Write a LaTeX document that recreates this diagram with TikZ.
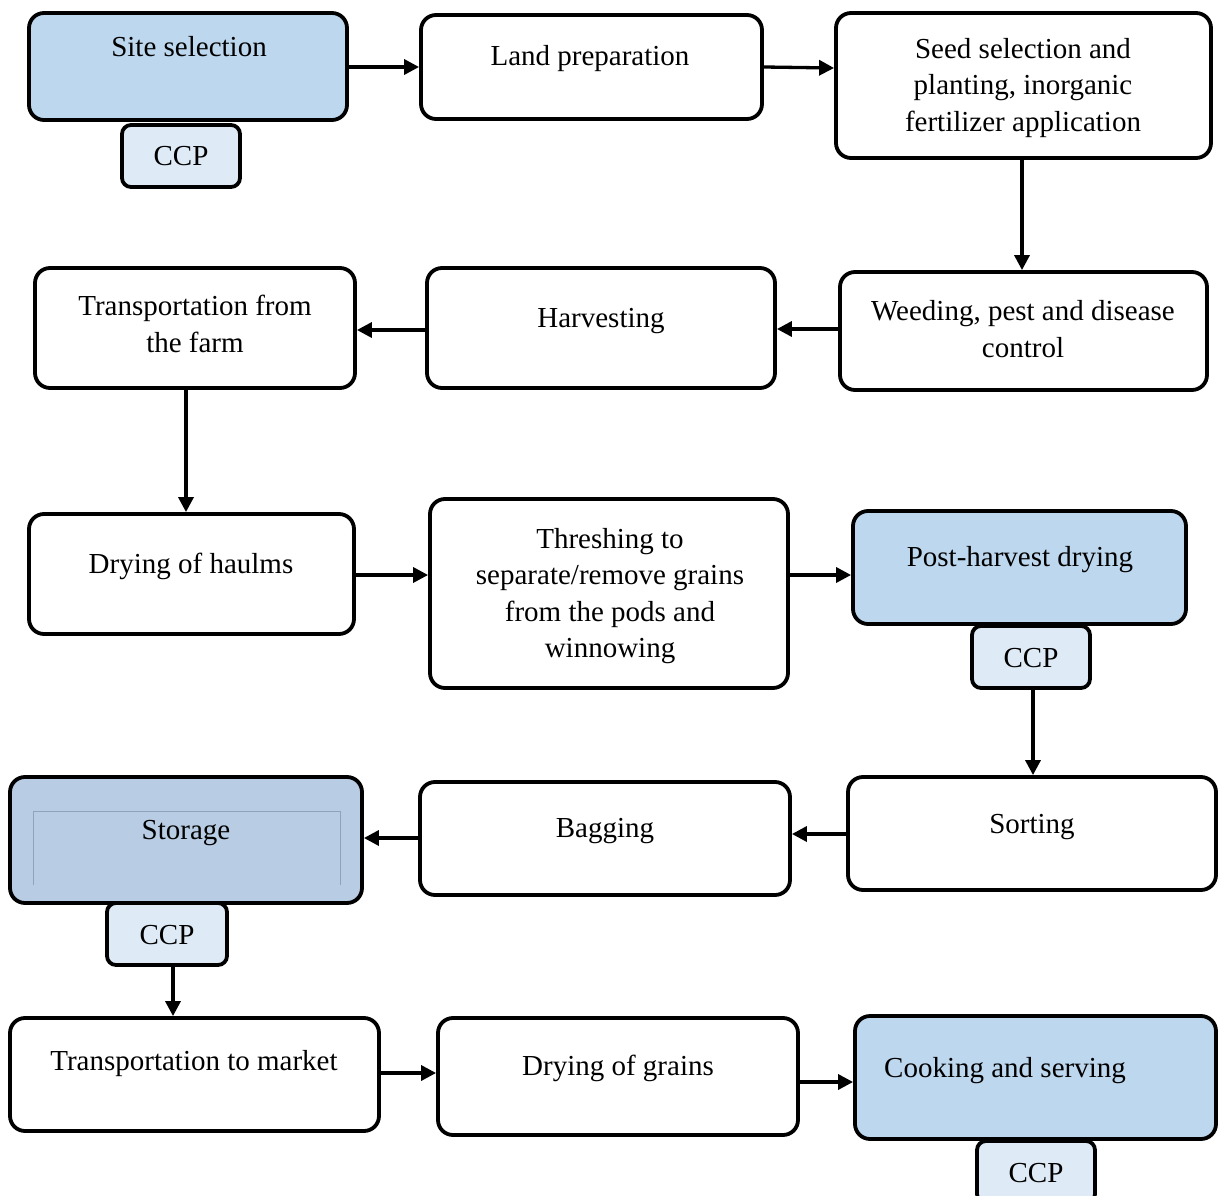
\documentclass[tikz,border=0pt]{standalone}
\usepackage{fontspec}
\setmainfont{Liberation Serif}
\usetikzlibrary{arrows.meta}
\definecolor{blueA}{HTML}{BDD7EE}
\definecolor{blueS}{HTML}{B8CCE4}
\definecolor{ccpfill}{HTML}{DEEAF6}
\definecolor{innergray}{HTML}{8FA3BB}
\tikzset{
  box/.style={draw=black, line width=3.8pt, rounded corners=15pt, inner sep=0pt, fill=white},
  bluebox/.style={box, fill=blueA},
  ccpbox/.style={draw=black, line width=3.8pt, rounded corners=9pt, inner sep=0pt, fill=ccpfill,
     minimum width=118pt, minimum height=62pt},
  txt/.style={inner sep=0pt, font=\fontsize{29}{36.5}\selectfont},
  ml/.style={txt, align=center, anchor=center},
  sl/.style={txt, anchor=base},
  arr/.style={line width=3.3pt, -{Triangle[length=15pt,width=15pt]}},
}
\begin{document}
\begin{tikzpicture}[x=1pt,y=-1pt]
\useasboundingbox (0,0) rectangle (1219,1196);
% boxes
\node[bluebox, minimum width=318pt, minimum height=107pt] (site) at (188,66.5) {};
\node[box, minimum width=341pt, minimum height=104pt] (land) at (591.5,67) {};
\node[box, minimum width=375pt, minimum height=145pt] (seed) at (1023.5,85.5) {};
\node[box, minimum width=367pt, minimum height=118pt] (weed) at (1023.5,331) {};
\node[box, minimum width=348pt, minimum height=120pt] (harv) at (601,328) {};
\node[box, minimum width=320pt, minimum height=120pt] (tfarm) at (195,328) {};
\node[box, minimum width=325pt, minimum height=120pt] (haulms) at (191.5,574) {};
\node[box, minimum width=358pt, minimum height=189pt] (thresh) at (609,593.5) {};
\node[bluebox, minimum width=333pt, minimum height=113pt] (phd) at (1019.5,567.5) {};
\node[box, minimum width=368pt, minimum height=113pt] (sort) at (1032,833.5) {};
\node[box, minimum width=370pt, minimum height=113pt] (bag) at (605,838.5) {};
\node[box, fill=blueS, minimum width=352pt, minimum height=126pt] (stor) at (186,840) {};
\node[box, minimum width=369pt, minimum height=113pt] (tmkt) at (194.5,1074.5) {};
\node[box, minimum width=360pt, minimum height=117pt] (dgrain) at (618,1076.5) {};
\node[bluebox, minimum width=361pt, minimum height=123pt] (cook) at (1035.5,1077.5) {};
% storage inner frame
\draw[innergray, line width=0.8pt] (33,885) -- (33,811) -- (340,811) -- (340,885);
% CCP boxes
\node[ccpbox] (ccp1) at (181,156) {};
\node[ccpbox] (ccp2) at (1031,657) {};
\node[ccpbox, minimum width=120pt] (ccp3) at (167,934) {};
\node[ccpbox] (ccp4) at (1036,1172) {};
% texts
\node[sl] (tsite) at (189,57) {Site selection};
\node[sl] (tland) at (590,66) {Land preparation};
\node[ml] (tseed) at (1023,88) {Seed selection and\\planting, inorganic\\fertilizer application};
\node[ml] (tweed) at (1023,329) {Weeding, pest and disease\\control};
\node[sl] (tharv) at (601,327) {Harvesting};
\node[ml] (ttfarm) at (195,324) {Transportation from\\the farm};
\node[sl] (thaul) at (191,573) {Drying of haulms};
\node[ml] (tthr) at (610,596) {Threshing to\\separate/remove grains\\from the pods and\\winnowing};
\node[sl] (tphd) at (1020,566) {Post-harvest drying};
\node[sl] (tsort) at (1032,833) {Sorting};
\node[sl] (tbag) at (605,837) {Bagging};
\node[sl] (tstor) at (186,839) {Storage};
\node[sl] (ttmkt) at (194,1070) {Transportation to market};
\node[sl] (tdgr) at (618,1075) {Drying of grains};
\node[sl, anchor=base west] (tcook) at (884,1077) {Cooking and serving};
\node[sl] (tc1) at (181,166) {CCP};
\node[sl] (tc2) at (1031,667) {CCP};
\node[sl] (tc3) at (167,944) {CCP};
\node[sl] (tc4) at (1036,1182) {CCP};
% arrows
\draw[arr] (site.east |- 0,67) -- (land.west |- 0,67);
\draw[arr] (land.east |- 0,67) -- (seed.west |- 0,68);
\draw[arr] (seed.south -| 1022,0) -- (weed.north -| 1022,0);
\draw[arr] (weed.west |- 0,329) -- (harv.east |- 0,329);
\draw[arr] (harv.west |- 0,330) -- (tfarm.east |- 0,330);
\draw[arr] (tfarm.south -| 186,0) -- (haulms.north -| 186,0);
\draw[arr] (haulms.east |- 0,575) -- (thresh.west |- 0,575);
\draw[arr] (thresh.east |- 0,575) -- (phd.west |- 0,575);
\draw[arr] (ccp2.south -| 1033,0) -- (sort.north -| 1033,0);
\draw[arr] (sort.west |- 0,834) -- (bag.east |- 0,834);
\draw[arr] (bag.west |- 0,838) -- (stor.east |- 0,838);
\draw[arr] (ccp3.south -| 173,0) -- (tmkt.north -| 173,0);
\draw[arr] (tmkt.east |- 0,1073) -- (dgrain.west |- 0,1073);
\draw[arr] (dgrain.east |- 0,1082) -- (cook.west |- 0,1082);
\end{tikzpicture}
\end{document}
